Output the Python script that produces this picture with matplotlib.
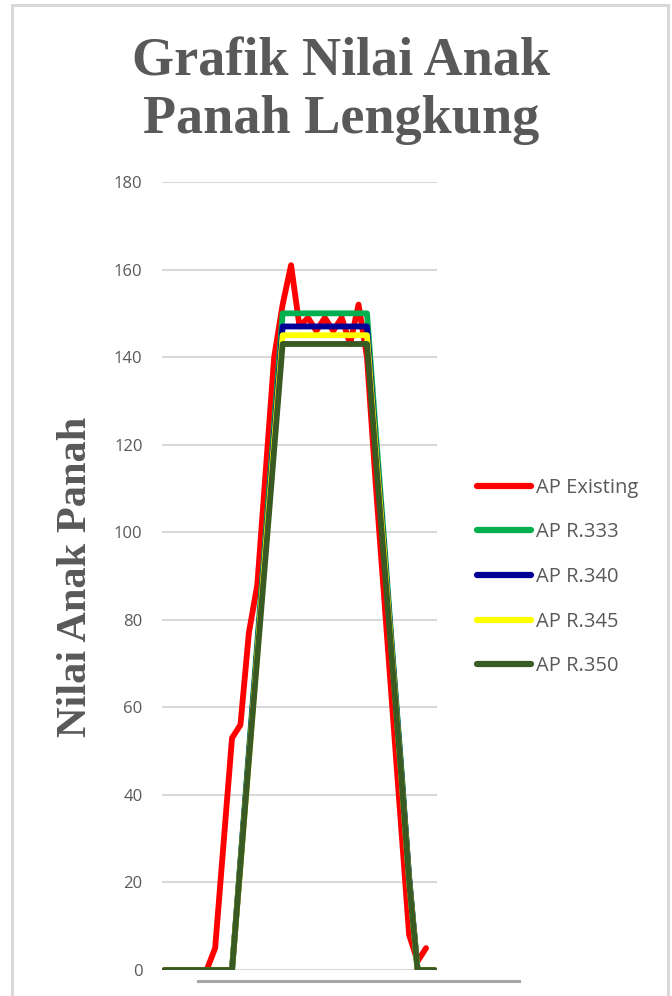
import matplotlib
matplotlib.use("Agg")
import matplotlib.pyplot as plt
from matplotlib.lines import Line2D
from matplotlib.patches import Rectangle
import numpy as np

# nilai anak panah per titik
ap_existing = [0, 0, 0, 0, 0, 0, 5, 29, 53, 56, 77, 88, 114, 140, 152, 161,
               147, 149, 146, 149, 146, 149, 143, 152, 140, 112, 86, 60, 34, 8, 2, 5]
ap_r333 = [0, 0, 0, 0, 0, 0, 0, 0, 0, 25, 50, 75, 100, 125, 150, 150, 150,
           150, 150, 150, 150, 150, 150, 150, 150, 124, 99, 73, 48, 21, 0, 0, 0]
ap_r340 = [0, 0, 0, 0, 0, 0, 0, 0, 0, 24.5, 49, 73.5, 98, 122.5, 147, 147, 147,
           147, 147, 147, 147, 147, 147, 147, 147, 121, 97, 72, 47, 21, 0, 0, 0]
ap_r345 = [0, 0, 0, 0, 0, 0, 0, 0, 0, 24, 48, 72.5, 97, 121, 145, 145, 145,
           145, 145, 145, 145, 145, 145, 145, 145, 120, 96, 71, 46, 20, 0, 0, 0]
ap_r350 = [0, 0, 0, 0, 0, 0, 0, 0, 0, 24, 48, 71.5, 95, 119, 143, 143, 143,
           143, 143, 143, 143, 143, 143, 143, 143, 118, 94, 70, 46, 20, 0, 0, 0]

labels = ["AP Existing", "AP R.333", "AP R.340", "AP R.345", "AP R.350"]
warna = ["#FF0000", "#00B050", "#000099", "#FFFF00", "#3A5A24"]
series = [ap_existing, ap_r333, ap_r340, ap_r345, ap_r350]
yticks = list(range(0, 181, 20))

W, H = 672, 996
fig = plt.figure(figsize=(W / 100, H / 100), dpi=100)
abu = "#595959"

# bingkai chart
fig.add_artist(Rectangle((12 / W, -0.05), 656 / W, 1 - 5 / H + 0.05,
                         transform=fig.transFigure, fill=False,
                         edgecolor="#D9D9D9", linewidth=2.2))

ax = fig.add_axes([162 / W, 1 - 970 / H, 275 / W, 788 / H])
for vals, lab, c in zip(series, labels, warna):
    x = np.arange(len(vals))
    ax.plot(x, vals, color=c, lw=4.2, label=lab,
            solid_capstyle="round", solid_joinstyle="round", zorder=3)

ax.set_xlim(-0.3, 32.3)
ax.set_ylim(0, 180)
ax.set_yticks(yticks)
ax.set_xticks([])
ax.grid(axis="y", color="#D9D9D9", lw=1.5)
ax.set_axisbelow(True)
for s in ax.spines.values():
    s.set_visible(False)
ax.tick_params(axis="y", length=0, pad=14, labelcolor=abu, labelsize=12)
for t in ax.get_yticklabels():
    t.set_fontfamily("Open Sans")

# garis sumbu bawah
fig.add_artist(Line2D([198 / W, 519 / W], [1 - 981 / H, 1 - 981 / H],
                      transform=fig.transFigure, color="#A6A6A6", lw=2.2))

fig.text(341 / W, 1 - 37 / H, "Grafik Nilai Anak\nPanah Lengkung",
         ha="center", va="top", fontsize=39, fontweight="bold",
         family="Liberation Serif", color=abu, linespacing=1.2)

fig.text(76 / W, 1 - 577 / H, "Nilai Anak Panah", rotation=90,
         ha="center", va="center", fontsize=30.5, fontweight="bold",
         family="Liberation Serif", color=abu)

leg = ax.legend(loc="center left", bbox_to_anchor=(477 / W, 1 - 577 / H),
                bbox_transform=fig.transFigure, frameon=False,
                prop={"family": "Open Sans", "size": 14.5},
                handlelength=2.7, handletextpad=0.25, labelspacing=1.22,
                borderpad=0, borderaxespad=0)
for t in leg.get_texts():
    t.set_color(abu)
for h in leg.legend_handles:
    h.set_linewidth(4.5)

fig.savefig("out.png", dpi=100)
